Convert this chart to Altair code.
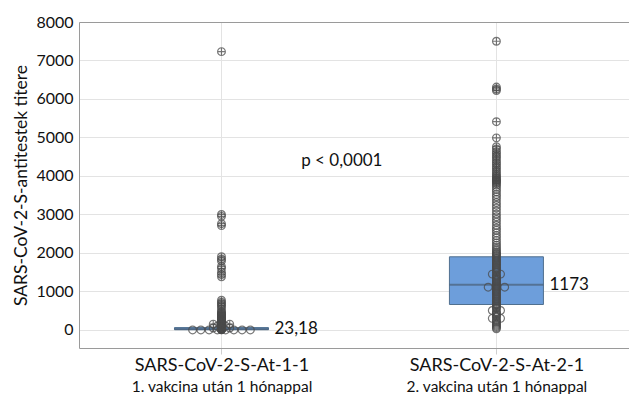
import altair as alt
import pandas as pd

# ---------------- data ----------------
groups = [1, 2]
group_names = ["SARS-CoV-2-S-At-1-1", "SARS-CoV-2-S-At-2-1"]
group_sub = ["1. vakcina után 1 hónappal", "2. vakcina után 1 hónappal"]
q1 = [5, 660]
median = [23.18, 1173]
q3 = [60, 1900]
median_labels = ["23,18", "1173"]

p_label = ["p < 0,0001"]
p_x = [1.29]
p_y = [4390]

y_ticks = [0, 1000, 2000, 3000, 4000, 5000, 6000, 7000, 8000]

g1_values = [7230, 3000, 2950, 2760, 2710, 1900, 1840, 1790, 1650, 1600, 1500, 1440,
             1380, 770, 720, 680, 640, 600, 540, 480, 450, 430, 410, 390, 370, 350,
             330, 310, 290, 270, 250, 235, 220, 205, 190, 175, 160, 150, 150, 150,
             140, 130, 120, 110, 100, 100, 92, 84, 76, 68, 60, 50, 50, 50, 45, 38,
             32, 26, 20, 15, 10, 6, 3, 0, 0, 0, 0, 0, 0, 0, 0]

g2_values = [7500, 6310, 6260, 6220, 5410, 4990, 4760, 4700, 4630, 4580, 4520, 4470,
             4410, 4350, 4300, 4240, 4190, 4130, 4080, 4030, 3990, 3960, 3930, 3900,
             3880, 3860, 3830, 3800, 3760, 3710, 3650, 3590, 3520, 3460, 3390, 3310,
             3240, 3170, 3090, 3010, 2940, 2870, 2800, 2720, 2650, 2590, 2520, 2450,
             2390, 2320, 2260, 2200, 2150, 2100, 2060, 2020,
             1995, 1965, 1940, 1910, 1880, 1855, 1825, 1795, 1770, 1740, 1712, 1685,
             1655, 1630, 1600, 1572, 1545, 1515, 1490, 1450, 1450, 1430, 1405, 1380,
             1350, 1325, 1300, 1270, 1245, 1215, 1190, 1160, 1135, 1110, 1110, 1110,
             1085, 1060, 1030, 1005, 980, 950, 925, 895, 870, 845, 815, 790, 760, 735,
             710, 680, 655, 630, 600, 575, 550, 505, 505, 480, 450, 420, 390, 360,
             330, 300, 300, 270, 240, 210, 180, 150, 120, 90, 60, 30]

# ---------------- tables ----------------
FONT = "Lato"
SWARM_STEP = 0.03

summary = pd.DataFrame({"pos": groups, "q1": q1, "median": median, "q3": q3,
                        "label": median_labels})

rows = []
for gi, vals in zip(range(len(groups)), [g1_values, g2_values]):
    iqr = q3[gi] - q1[gi]
    fence = q3[gi] + 1.5 * iqr
    counts = {}
    for v in vals:
        counts[v] = counts.get(v, 0) + 1
    seen = {}
    for v in vals:
        n = counts[v]
        i = seen.get(v, 0)
        seen[v] = i + 1
        off = (i - (n - 1) / 2) * SWARM_STEP
        rows.append({"x": groups[gi] + off, "value": v,
                     "kind": "out" if v > fence else "in"})
points = pd.DataFrame(rows)

ptext = pd.DataFrame({"x": p_x, "y": p_y, "t": p_label})

xs = alt.Scale(domain=[0.5, 2.464], nice=False, zero=False)
ys = alt.Scale(domain=[-470, 8000], nice=False, zero=False)

label1 = " : ".join([f"datum.value == {g} ? '{n}'" for g, n in zip(groups, group_names)]) + " : ''"
label2 = " : ".join([f"datum.value == {g} ? '{n}'" for g, n in zip(groups, group_sub)]) + " : ''"

axis_main = alt.Axis(values=groups, labelExpr=label1, title=None, grid=True,
                     gridColor="#e3e3e3", domainColor="#9a9a9a", tickColor="#cfcfcf",
                     tickSize=6, labelFontSize=18, labelFont=FONT, labelColor="#111",
                     labelPadding=2, labelLimit=0, orient="bottom")
axis_sub = alt.Axis(values=groups, labelExpr=label2, title=None, grid=False,
                    domain=False, ticks=False, labelFontSize=15.5, labelFont=FONT,
                    labelColor="#111", labelPadding=31, labelLimit=0, orient="bottom")
axis_top = alt.Axis(values=groups, labels=False, ticks=False, grid=False, title=None,
                    domain=True, domainColor="#9a9a9a", orient="top")

yaxis = alt.Axis(values=y_ticks, format="d", title="SARS-CoV-2-S-antitestek titere",
                 grid=True, gridColor="#e3e3e3", domainColor="#9a9a9a", ticks=False,
                 labelFontSize=16, labelFont=FONT, labelColor="#111", labelPadding=6,
                 titleFontSize=17.5, titleFont=FONT, titleFontWeight="normal",
                 titleColor="#111", titlePadding=5)

box = alt.Chart(summary).mark_bar(size=94, color="#6d9edb", stroke="#50708f",
                                  strokeWidth=1).encode(
    x=alt.X("pos:Q", scale=xs, axis=axis_main),
    y=alt.Y("q1:Q", scale=ys, axis=yaxis),
    y2="q3:Q",
)

med = alt.Chart(summary).mark_tick(orient="horizontal", size=94, thickness=2,
                                   color="#4a5f78").encode(
    x=alt.X("pos:Q", scale=xs, axis=axis_sub),
    y=alt.Y("median:Q", scale=ys, axis=yaxis),
)

PATH = "M -1 0 A 1 1 0 1 0 1 0 A 1 1 0 1 0 -1 0 M -1 0 L 1 0 M 0 -1 L 0 1"
pts = alt.Chart(points).mark_point(filled=False, size=60, strokeWidth=1.2, opacity=0.75,
                                   color="#4a4a4a").encode(
    x=alt.X("x:Q", scale=xs, axis=axis_top),
    y=alt.Y("value:Q", scale=ys, axis=yaxis),
    shape=alt.Shape("kind:N", scale=alt.Scale(domain=["in", "out"], range=["circle", PATH]),
                    legend=None),
)

mlab = alt.Chart(summary).mark_text(align="left", baseline="middle", dx=53, fontSize=17,
                                    font=FONT, color="#111").encode(
    x=alt.X("pos:Q", scale=xs, axis=None),
    y=alt.Y("median:Q", scale=ys, axis=yaxis),
    text="label:N",
)

ptxt = alt.Chart(ptext).mark_text(align="left", baseline="middle", fontSize=17,
                                  font=FONT, color="#111").encode(
    x=alt.X("x:Q", scale=xs, axis=None),
    y=alt.Y("y:Q", scale=ys, axis=yaxis),
    text="t:N",
)

chart = alt.layer(box, med, pts, mlab, ptxt).resolve_axis(x="independent").properties(
    width=550, height=326,
    autosize=alt.AutoSizeParams(type="none"),
    padding={"left": 71, "top": 14, "right": 0, "bottom": 46},
).configure_view(stroke=None)

chart.save("out.html", embed_options={"renderer": "svg", "actions": False})
